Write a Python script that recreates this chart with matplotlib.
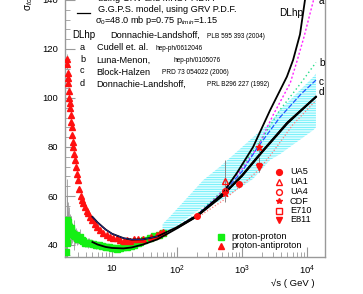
import numpy as np
import matplotlib
matplotlib.use("Agg")
import matplotlib.pyplot as plt
from matplotlib.ticker import FixedLocator, MultipleLocator, LogLocator, NullFormatter

plt.rcParams['font.family'] = ['Liberation Sans', 'DejaVu Sans']
plt.rcParams['mathtext.fontset'] = 'custom'
plt.rcParams['mathtext.rm'] = 'Liberation Sans'
plt.rcParams['mathtext.it'] = 'Liberation Sans:italic'
plt.rcParams['hatch.linewidth'] = 0.5

# ---- data ----
# proton-antiproton, low energy
pbp_s = [2.02, 2.05, 2.08, 2.10, 2.13, 2.16, 2.19, 2.22, 2.26, 2.30, 2.35, 2.40, 2.45,
         2.50, 2.54, 2.60, 2.70, 2.80, 2.90, 3.03, 3.15, 3.30, 3.42, 3.60, 3.85, 4.10,
         4.30, 4.58, 5.00, 5.40, 5.82, 6.50, 7.35, 8.30, 9.30, 10.5, 11.8, 13.5, 15.5,
         17.0, 19.0, 22.0, 25.0, 30.0, 40.0, 49.0, 55.0, 61.0]
pbp_sig = [116, 114, 110, 108, 106, 103, 100, 98, 96, 93, 90, 88, 85,
           82, 80, 77, 74.5, 72, 69, 66.5, 63, 60, 58.4, 57, 55.6, 54,
           53, 51.6, 50, 48.5, 47.5, 46, 44.8, 44, 43.4, 43, 42.7, 42, 41.5,
           42, 41.8, 42.5, 42.6, 42.3, 43.2, 44, 45, 45.4]
pbp_err = [2.0, 2.0, 2.0, 2.0, 1.5, 1.5, 1.5, 1.5, 1.5, 1.5, 1.2, 1.2, 1.2,
           1.2, 1.0, 1.0, 1.0, 1.0, 1.0, 1.0, 1.0, 1.0, 0.8, 0.8, 0.8, 0.8,
           0.8, 0.8, 0.6, 0.6, 0.6, 0.6, 0.5, 0.5, 0.5, 0.5, 0.5, 0.5, 0.5,
           0.5, 0.5, 0.5, 0.5, 0.5, 0.8, 0.8, 1.0, 1.0]

# proton-proton
pp_s = [1.95, 1.97, 1.98, 2.00, 2.03, 2.04, 2.06, 2.09, 2.12, 2.15, 2.20, 2.25, 2.30,
        2.35, 2.40, 2.50, 2.60, 2.70, 2.80, 2.90, 3.00, 3.20, 3.40, 3.60, 3.90, 4.20,
        4.50, 5.10, 5.60, 6.20, 7.00, 8.00, 9.00, 10.0, 11.0, 12.0, 13.5, 15.0, 17.0,
        19.5, 22.0, 25.0, 27.0, 31.0, 38.0, 45.0, 53.0, 61.0]
pp_sig = [37, 44, 42, 47, 49, 41, 50, 49.5, 48, 47.5, 47, 46.5, 47,
          46, 45, 44.5, 44, 43.5, 44, 43, 42.6, 43.4, 42, 41.5, 41, 40.8,
          41, 40.5, 40, 39.8, 39.5, 39.3, 39, 38.8, 38.6, 38.5, 38.8, 39, 39.2,
          39.5, 40, 40.8, 41.3, 41.9, 42.7, 43.5, 44.2, 45]
pp_err = [3, 8, 5, 12, 18, 6, 10, 8, 6, 8, 5, 6, 5,
          6, 4, 3, 6, 3, 3, 3, 2, 3, 2, 2, 2, 2,
          2, 1.5, 1.5, 1.5, 1.5, 1.5, 1.5, 1.2, 1.2, 1.2, 1.0, 1.0, 1.0,
          1.0, 1.0, 0.8, 0.8, 0.8, 0.8, 0.8, 0.8, 0.8]

# collider points (proton-antiproton)
ua5_s, ua5_sig, ua5_err = [200, 900], [51.8, 65.0], [1.2, 1.6]
ua1_s, ua1_sig, ua1_err = [546], [66.0], [8.5]
ua4_s, ua4_sig, ua4_err = [546], [61.9], [1.5]
cdf_s, cdf_sig, cdf_err = [546, 1800], [61.3, 80.0], [0.9, 2.3]
e710_s, e710_sig, e710_err = [1800], [72.8], [3.1]
e811_s, e811_sig, e811_err = [1800], [71.7], [2.0]

# model curves
ggps_pbp_s = [5, 6, 8, 10, 15, 20, 30, 50, 100, 200, 500, 1000, 2000, 5000, 13700]
ggps_pbp = [51.5, 49.2, 46.3, 44.6, 42.8, 42.2, 42.3, 43.5, 47.3, 52.0, 60.5, 68.5, 78.0, 90.0, 100.5]
ggps_pp_s = [5, 6, 8, 10, 15, 20, 30, 50, 100, 200, 500, 1000, 2000, 5000, 13700]
ggps_pp = [41.2, 40.2, 39.2, 38.8, 38.6, 39.0, 40.2, 42.3, 46.8, 51.6, 60.0, 68.3, 77.8, 90.0, 100.5]

dlhp_s = [100, 200, 500, 830, 1480, 2700, 4900, 6100, 7800, 9300, 11000]
dlhp = [47.0, 51.6, 61.0, 69.3, 80.0, 95.0, 108.7, 115.5, 126.0, 140.0, 152.0]
a_s = [100, 200, 500, 1000, 1750, 3000, 5500, 7000, 9000, 12600, 14500]
a_sig = [47.0, 52.0, 62.0, 71.0, 80.0, 93.0, 106.0, 115.0, 125.0, 140.0, 147.0]
b_s = [100, 200, 500, 1000, 2100, 3800, 8000, 13700]
b_sig = [47.5, 52.5, 62.0, 72.0, 84.0, 95.0, 106.0, 114.5]
c_s = [100, 200, 500, 1000, 1700, 3800, 8000, 13700]
c_sig = [47.3, 52.3, 61.0, 70.0, 79.5, 92.0, 101.5, 107.3]
d_s = [100, 200, 500, 1000, 2000, 5000, 13700]
d_sig = [47.0, 51.8, 60.2, 68.0, 77.5, 89.5, 100.3]
red_s = [200, 500, 1000, 1800, 3000, 6000, 13700]
red_sig = [51.0, 58.0, 64.5, 70.6, 78.0, 89.0, 99.0]

band_s = [60, 78, 254, 460, 830, 1480, 2700, 3800, 12600, 13700]
band_hi = [48.5, 51.6, 66.5, 72.0, 78.0, 84.0, 90.0, 95.0, 108.7, 110.0]
band_lo = [44.5, 46.0, 55.6, 58.0, 62.4, 67.0, 74.7, 77.0, 87.0, 88.0]

W, H = 363, 294
fig = plt.figure(figsize=(W / 100, H / 100), dpi=100)
ax = fig.add_axes([65 / W, 1 - 257.25 / H, 260 / W, 281.75 / H])
ax.set_xscale('log')
ax.set_xlim(1.892, 18900)
ax.set_ylim(35, 150)

frame = '#999999'
for side in ['left', 'bottom', 'right', 'top']:
    ax.spines[side].set_color(frame)
    ax.spines[side].set_linewidth(1.0)

# band
ax.fill_between(band_s, band_lo, band_hi, facecolor='#ddfdff', edgecolor='#52ecf8',
                hatch='-------', linewidth=0, zorder=1)

# data with error bars
ax.errorbar(pp_s, pp_sig, yerr=pp_err, fmt='none', ecolor='#9a9a9a', elinewidth=0.6, zorder=2)
ax.errorbar(pbp_s, pbp_sig, yerr=pbp_err, fmt='none', ecolor='#9a9a9a', elinewidth=0.6, zorder=2)
ax.plot(pp_s, pp_sig, 's', color='#14f014', ms=3.8, mec='#14f014', zorder=3)
ax.plot(pbp_s, pbp_sig, '^', color='#ff1010', ms=4.0, mec='#ff1010', zorder=3)

# curves
ax.plot(a_s, a_sig, ls=(0, (1.5, 1.5)), color='#ff22ff', lw=1.0, zorder=4)
ax.plot(b_s, b_sig, ls=(0, (1, 2)), color='#22dd88', lw=1.0, zorder=4)
ax.plot(c_s, c_sig, ls=(0, (4, 1.5)), color='#2255ff', lw=0.9, zorder=4)
ax.plot(red_s, red_sig, ls=(0, (1, 1.5)), color='#ff7a7a', lw=0.9, zorder=4)
ax.plot(d_s, d_sig, color='black', lw=1.0, zorder=5)
ax.plot(ggps_pbp_s, ggps_pbp, color='black', lw=1.3, zorder=5)
ax.plot(ggps_pp_s, ggps_pp, color='black', lw=1.3, zorder=5)
ax.plot(dlhp_s, dlhp, color='black', lw=1.3, zorder=5)
ax.plot(ggps_pbp_s[:8], ggps_pbp[:8], color='#3030aa', lw=0.5, zorder=6)

# collider points
red = '#ff1010'
ax.errorbar(ua1_s, ua1_sig, yerr=ua1_err, fmt='^', ms=4, mfc='none', mec=red, ecolor='#888888', elinewidth=0.7, zorder=7)
ax.errorbar(ua4_s, ua4_sig, yerr=ua4_err, fmt='o', ms=4, mfc='none', mec=red, ecolor='#888888', elinewidth=0.7, zorder=7)
ax.errorbar(cdf_s, cdf_sig, yerr=cdf_err, fmt='*', ms=4.5, color=red, ecolor='#888888', elinewidth=0.7, zorder=7)
ax.errorbar(e710_s, e710_sig, yerr=e710_err, fmt='s', ms=3.5, mfc='none', mec=red, ecolor='#888888', elinewidth=0.7, zorder=7)
ax.errorbar(e811_s, e811_sig, yerr=e811_err, fmt='v', ms=4, color=red, ecolor='#888888', elinewidth=0.7, zorder=7)
ax.errorbar(ua5_s, ua5_sig, yerr=ua5_err, fmt='o', ms=4, color=red, ecolor='#888888', elinewidth=0.7, zorder=7)

# ticks
ax.xaxis.set_major_locator(FixedLocator([10, 100, 1000, 10000]))
ax.xaxis.set_minor_locator(LogLocator(base=10, subs=np.arange(2, 10)))
ax.xaxis.set_minor_formatter(NullFormatter())
ax.set_xticklabels(['10', '$10^{2}$', '$10^{3}$', '$10^{4}$'])
ax.yaxis.set_major_locator(FixedLocator([40, 60, 80, 100, 120, 140]))
ax.yaxis.set_minor_locator(MultipleLocator(4))
ax.tick_params(which='both', direction='in', color=frame, top=False, right=False)
ax.tick_params(which='major', length=7, labelsize=6.8, pad=5)
ax.tick_params(which='minor', length=3.5)
ax.tick_params(axis='x', which='major', pad=5)

# curve labels
ax.text(15300, 139.6, 'a', fontsize=7.2, ha='left', va='center')
ax.text(15300, 114.3, 'b', fontsize=7.2, ha='left', va='center')
ax.text(15300, 106.5, 'c', fontsize=7.2, ha='left', va='center')
ax.text(15300, 102.4, 'd', fontsize=7.2, ha='left', va='center')
ax.text(5680, 134.8, 'DLhp', fontsize=7.2, ha='center', va='center')


def ft(px, py, s, size=6.6, **kw):
    kw.setdefault('va', 'center')
    fig.text(px / W, 1 - py / H, s, fontsize=size, **kw)


# axis titles
ft(29, 11, 'σ$_{tot}$', size=7.2, rotation=90, ha='center', va='bottom')
ft(315, 283.5, '√s ( GeV )', size=6.8, ha='right')

# top legend text
ft(98, -1.5, 'using GRV and MRST P.D.F.')
ft(98, 10, 'G.G.P.S. model, using GRV P.D.F.')
fig.add_artist(plt.Line2D([77 / W, 90 / W], [1 - 13 / H, 1 - 13 / H], color='black', lw=0.9))
ft(95, 20.5, 'σ$_{0}$=48.0 mb p=0.75 p$_{tmin}$=1.15')
ft(72, 35, 'DLhp', size=7.0)
ft(110, 35, 'Donnachie-Landshoff,')
ft(207, 36, 'PLB 595 393 (2004)', size=4.7)
rows = [('a', 'Cudell et. al.', 155, 'hep-ph/0612046'),
        ('b', 'Luna-Menon,', 173, 'hep-ph/0105076'),
        ('c', 'Block-Halzen', 162, 'PRD 73 054022 (2006)'),
        ('d', 'Donnachie-Landshoff,', 207, 'PRL B296 227 (1992)')]
for i, (k, name, rx, ref) in enumerate(rows):
    py = 48 + 12 * i
    ft(80, py - 1, k)
    ft(96.5, py, name)
    ft(rx, py + 1, ref, size=4.7)

# marker legend
mk = [('o', True, 'UA5'), ('^', False, 'UA1'), ('o', False, 'UA4'),
      ('*', True, 'CDF'), ('s', False, 'E710'), ('v', True, 'E811')]
ys = [172, 182, 191.5, 201, 210.5, 220]
for (m, filled, lab), py in zip(mk, ys):
    fig.add_artist(plt.Line2D([279 / W], [1 - py / H], marker=m, ls='none', ms=4.2,
                              mfc=red if filled else 'none', mec=red))
    ft(290, py, lab)
fig.add_artist(plt.Line2D([221 / W], [1 - 236.5 / H], marker='s', ls='none', ms=3.8,
                          mfc='#14f014', mec='#14f014'))
ft(231, 236.5, 'proton-proton')
fig.add_artist(plt.Line2D([221 / W], [1 - 246 / H], marker='^', ls='none', ms=4.0,
                          mfc=red, mec=red))
ft(231, 246, 'proton-antiproton')

fig.savefig('out.png', dpi=100)
